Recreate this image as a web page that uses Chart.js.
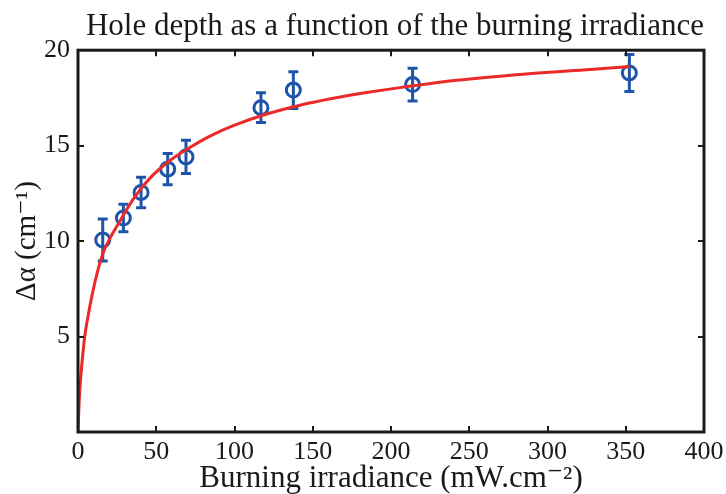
<!DOCTYPE html>
<html>
<head>
<meta charset="utf-8">
<script src="https://cdn.jsdelivr.net/npm/chart.js@4.4.1/dist/chart.umd.min.js"></script>
<style>
  html, body { margin: 0; padding: 0; background: #fff; }
  #wrap { width: 726px; height: 494px; }
</style>
</head>
<body>
<div id="wrap"><canvas id="holeChart" width="726" height="494"></canvas></div>
<script>
// measured points (burning irradiance, hole depth) with error half-widths
var irradiance = [15.8, 29.0, 40.3, 57.3, 69.0, 116.9, 137.6, 213.8, 352.3];
var holeDepth  = [10.06, 11.21, 12.55, 13.77, 14.41, 16.99, 17.91, 18.20, 18.81];
var depthError = [1.10, 0.72, 0.80, 0.82, 0.87, 0.78, 0.96, 0.86, 0.97];

// fitted curve
var fitX = [0, 0.8, 2.0, 4.3, 6.5, 9.2, 12.8, 16.6, 19.8, 26.8, 35.3, 46, 58.8, 69.4, 84.3,
            99.2, 120.6, 141.9, 163.1, 184.4, 205.8, 242, 284.5, 327.2, 352.7];
var fitY = [0, 1.7, 3.1, 5.0, 6.1, 7.25, 8.5, 9.5, 10.05, 11.05, 12.2, 13.3, 14.22, 14.8, 15.5,
            16.05, 16.66, 17.12, 17.48, 17.78, 18.04, 18.42, 18.74, 18.99, 19.14];

var xTicks = [0, 50, 100, 150, 200, 250, 300, 350, 400];
var yTicks = [0, 5, 10, 15, 20];

var serif = "'Liberation Serif', 'DejaVu Serif', serif";
var blue = '#1f55a8';
var red = '#ec2a2a';
var ink = '#1a1a1a';

function toPoints(xs, ys) {
    return xs.map(function (x, i) { return { x: x, y: ys[i] }; });
}

// error bars, drawn under the markers
var errorBars = {
    id: 'errorBars',
    beforeDatasetsDraw: function (chart) {
        var ctx = chart.ctx;
        var xs = chart.scales.x, ys = chart.scales.y;
        ctx.save();
        ctx.strokeStyle = blue;
        ctx.lineWidth = 3;
        irradiance.forEach(function (v, i) {
            var px = xs.getPixelForValue(v);
            var top = ys.getPixelForValue(holeDepth[i] + depthError[i]);
            var bot = ys.getPixelForValue(holeDepth[i] - depthError[i]);
            ctx.beginPath();
            ctx.moveTo(px, top); ctx.lineTo(px, bot);
            ctx.moveTo(px - 5, top); ctx.lineTo(px + 5, top);
            ctx.moveTo(px - 5, bot); ctx.lineTo(px + 5, bot);
            ctx.stroke();
        });
        ctx.restore();
    }
};

// box frame with inward ticks on all four sides
var frame = {
    id: 'frame',
    afterDraw: function (chart) {
        var ctx = chart.ctx;
        var a = chart.chartArea;
        var xs = chart.scales.x, ys = chart.scales.y;
        var len = 6;
        ctx.save();
        ctx.strokeStyle = ink;
        ctx.lineWidth = 2;
        ctx.beginPath();
        xTicks.forEach(function (t) {
            var px = Math.round(xs.getPixelForValue(t));
            ctx.moveTo(px, a.bottom); ctx.lineTo(px, a.bottom - len);
            ctx.moveTo(px, a.top); ctx.lineTo(px, a.top + len);
        });
        yTicks.forEach(function (t) {
            var py = Math.round(ys.getPixelForValue(t));
            ctx.moveTo(a.left, py); ctx.lineTo(a.left + len, py);
            ctx.moveTo(a.right, py); ctx.lineTo(a.right - len, py);
        });
        ctx.stroke();
        ctx.lineWidth = 3;
        ctx.strokeRect(a.left, a.top, a.right - a.left, a.bottom - a.top);
        ctx.restore();
    }
};

var ctx = document.getElementById('holeChart').getContext('2d');

new Chart(ctx, {
    type: 'scatter',
    data: {
        datasets: [{
            type: 'line',
            label: 'fit',
            data: toPoints(fitX, fitY),
            borderColor: red,
            borderWidth: 3,
            pointRadius: 0,
            fill: false,
            cubicInterpolationMode: 'monotone',
            order: 0
        }, {
            label: 'hole depth',
            data: toPoints(irradiance, holeDepth),
            borderColor: blue,
            backgroundColor: 'rgba(0,0,0,0)',
            borderWidth: 3,
            pointRadius: 7,
            pointHoverRadius: 7,
            order: 1
        }]
    },
    options: {
        responsive: false,
        animation: false,
        layout: { padding: { left: 0, right: 22, top: 0, bottom: 0 } },
        plugins: {
            legend: { display: false },
            tooltip: { enabled: false },
            title: {
                display: true,
                align: 'end',
                text: 'Hole depth as a function of the burning irradiance',
                color: ink,
                font: { family: serif, size: 31, weight: 'normal' },
                padding: { top: 8, bottom: 5 }
            }
        },
        scales: {
            x: {
                type: 'linear',
                min: 0,
                max: 400,
                afterBuildTicks: function (scale) {
                    scale.ticks = xTicks.map(function (v) { return { value: v }; });
                },
                afterFit: function (scale) {
                    scale.height = 62;
                    scale.paddingLeft = 0;
                    scale.paddingRight = 0;
                },
                grid: { display: false, drawTicks: false },
                border: { display: false },
                ticks: {
                    color: ink,
                    padding: 5,
                    maxRotation: 0,
                    font: { family: serif, size: 26 }
                },
                title: {
                    display: true,
                    text: 'Burning irradiance (mW.cm⁻²)',
                    color: ink,
                    padding: 0,
                    font: { family: serif, size: 31, lineHeight: 1.0 }
                }
            },
            y: {
                type: 'linear',
                min: 0,
                max: 20,
                afterBuildTicks: function (scale) {
                    scale.ticks = yTicks.map(function (v) { return { value: v }; });
                },
                afterFit: function (scale) { scale.width = 78; },
                grid: { display: false, drawTicks: false },
                border: { display: false },
                ticks: {
                    color: ink,
                    padding: 8,
                    font: { family: serif, size: 26 },
                    callback: function (v) { return v === 0 ? '' : v; }
                },
                title: {
                    display: true,
                    text: 'Δα (cm⁻¹)',
                    color: ink,
                    padding: { top: 10, bottom: 0 },
                    font: { family: serif, size: 29 }
                }
            }
        }
    },
    plugins: [errorBars, frame]
});
</script>
</body>
</html>
